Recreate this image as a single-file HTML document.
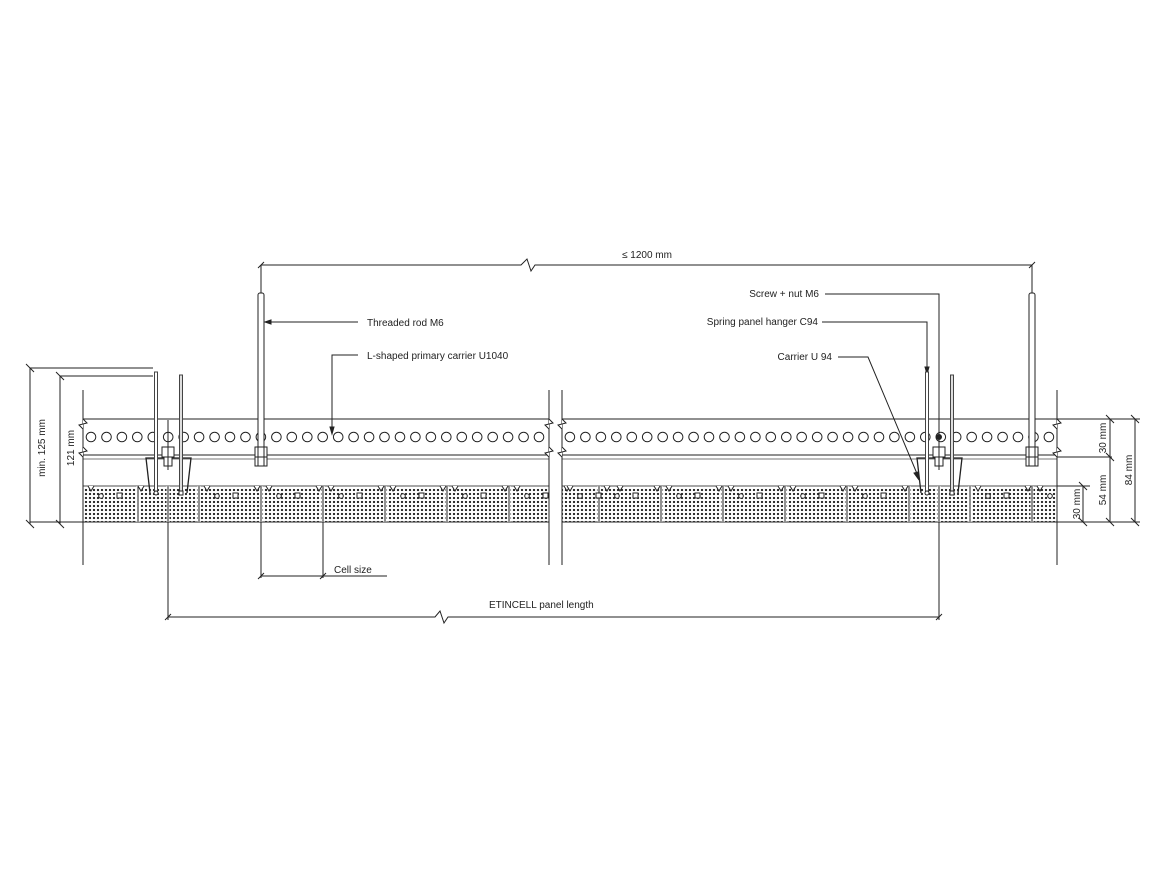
<!DOCTYPE html>
<html><head><meta charset="utf-8"><style>
html,body{margin:0;padding:0;background:#fff}
svg{display:block}
text{font-family:"Liberation Sans",sans-serif;font-size:10px;fill:#222}
</style></head><body>
<svg id="s" width="1170" height="878" viewBox="0 0 1170 878" xmlns="http://www.w3.org/2000/svg">
<defs>
<pattern id="dots" x="0" y="0" width="4" height="4" patternUnits="userSpaceOnUse">
<circle cx="2" cy="2" r="1.15" fill="#222"/>
</pattern>
</defs>
<g id="g" stroke="#222" stroke-width="1" fill="none">
<line x1="83" y1="419" x2="549" y2="419"/><line x1="562" y1="419" x2="1057" y2="419"/>
<line x1="83" y1="455" x2="549" y2="455"/><line x1="562" y1="455" x2="1057" y2="455"/>
<line x1="83" y1="459" x2="549" y2="459" stroke="#777"/><line x1="562" y1="459" x2="1057" y2="459" stroke="#777"/>
<rect x="83" y="488" width="466" height="34" fill="url(#dots)" stroke="none"/>
<rect x="562" y="488" width="495" height="34" fill="url(#dots)" stroke="none"/>
<line x1="83" y1="486" x2="549" y2="486" stroke="#888" stroke-width="1.5"/><line x1="562" y1="486" x2="1057" y2="486" stroke="#888" stroke-width="1.5"/>
<line x1="83" y1="522" x2="549" y2="522"/><line x1="562" y1="522" x2="1057" y2="522"/>
<line x1="83" y1="390" x2="83" y2="565"/><line x1="1057" y1="390" x2="1057" y2="565"/>
<line x1="549" y1="390" x2="549" y2="565"/><line x1="562" y1="390" x2="562" y2="565"/>
<line x1="168" y1="522" x2="168" y2="620"/><line x1="939" y1="522" x2="939" y2="620"/>
<line x1="261" y1="522" x2="261" y2="578"/><line x1="323" y1="522" x2="323" y2="578"/>
<line x1="261" y1="576" x2="387" y2="576"/>
<line x1="258" y1="579" x2="264" y2="573"/><line x1="320" y1="579" x2="326" y2="573"/>
<polyline points="168,617 435,617 440,611 444,623 448,617 939,617"/>
<line x1="165" y1="620" x2="171" y2="614"/><line x1="936" y1="620" x2="942" y2="614"/>
<polyline points="261,265 521,265 527,259 531,271 535,265 1032,265"/>
<line x1="258" y1="268" x2="264" y2="262"/><line x1="1029" y1="268" x2="1035" y2="262"/>
<line x1="261" y1="265" x2="261" y2="293"/><line x1="1032" y1="265" x2="1032" y2="293"/>
<line x1="30" y1="368" x2="153" y2="368"/><line x1="60" y1="376" x2="153" y2="376"/>
<line x1="30" y1="368" x2="30" y2="524"/><line x1="60" y1="376" x2="60" y2="524"/>
<line x1="26" y1="364" x2="34" y2="372"/><line x1="56" y1="372" x2="64" y2="380"/>
<line x1="26" y1="520" x2="34" y2="528"/><line x1="56" y1="520" x2="64" y2="528"/>
<line x1="30" y1="522" x2="83" y2="522"/>
<line x1="1057" y1="419" x2="1140" y2="419"/><line x1="1057" y1="457" x2="1112" y2="457"/>
<line x1="1057" y1="486" x2="1090" y2="486"/><line x1="1057" y1="522" x2="1140" y2="522"/>
<line x1="1110" y1="419" x2="1110" y2="522"/><line x1="1135" y1="419" x2="1135" y2="522"/>
<line x1="1083" y1="486" x2="1083" y2="522"/>
<line x1="1106" y1="415" x2="1114" y2="423"/><line x1="1106" y1="453" x2="1114" y2="461"/><line x1="1106" y1="518" x2="1114" y2="526"/>
<line x1="1131" y1="415" x2="1139" y2="423"/><line x1="1131" y1="518" x2="1139" y2="526"/>
<line x1="1079" y1="482" x2="1087" y2="490"/><line x1="1079" y1="518" x2="1087" y2="526"/>
<line x1="265" y1="322" x2="358" y2="322"/><polygon points="265,322 271,320 271,324" fill="#222"/>
<polyline points="358,355 332,355 332,432"/><polygon points="332,434 330,427 334,427" fill="#222"/>
<polyline points="825,294 939,294 939,437"/>
<polyline points="822,322 927,322 927,372"/><polygon points="927,374 925,367 929,367" fill="#222"/>
<polyline points="838,357 868,357 918,476"/><polygon points="919,480 914,473 918,472" fill="#222"/>
</g>
<text x="647" y="258" text-anchor="middle">≤ 1200 mm</text>
<text x="367" y="326">Threaded rod M6</text>
<text x="367" y="359">L-shaped primary carrier U1040</text>
<text x="819" y="297" text-anchor="end">Screw + nut M6</text>
<text x="818" y="325" text-anchor="end">Spring panel hanger C94</text>
<text x="832" y="360" text-anchor="end">Carrier U 94</text>
<text x="334" y="573">Cell size</text>
<text x="489" y="608">ETINCELL panel length</text>
<text transform="translate(45,448) rotate(-90)" text-anchor="middle">min. 125 mm</text>
<text transform="translate(74,448) rotate(-90)" text-anchor="middle">121 mm</text>
<text transform="translate(1106,438) rotate(-90)" text-anchor="middle">30 mm</text>
<text transform="translate(1106,490) rotate(-90)" text-anchor="middle">54 mm</text>
<text transform="translate(1132,470) rotate(-90)" text-anchor="middle">84 mm</text>
<text transform="translate(1080,504) rotate(-90)" text-anchor="middle">30 mm</text>
</svg>
<script>
var NS="http://www.w3.org/2000/svg",g=document.getElementById("g");
function el(t,a){var e=document.createElementNS(NS,t);for(var k in a)e.setAttribute(k,a[k]);g.appendChild(e);return e;}
for(var x=91;x<1052;x+=15.45){if(x>543&&x<568)continue;el("circle",{cx:x.toFixed(1),cy:437,r:4.8});}
var seps=[138,168,199,261,323,385,447,509,599,661,723,785,847,909,939,970,1032];
seps.forEach(function(x){el("rect",{x:x-1.5,y:486,width:3,height:36,fill:"#fff",stroke:"none"});el("line",{x1:x,y1:486,x2:x,y2:522});});
var starts=[83,199,261,323,385,447,509,562,599,661,723,785,847,970,1032];
starts.forEach(function(x){
 [8,58].forEach(function(d){var nx=x+d;if(nx<1055&&!(nx>545&&nx<565)){el("polyline",{points:(nx-3)+",486 "+nx+",491 "+(nx+3)+",486",fill:"#fff"});}});
 if(x+18<1055&&!(x+18>545&&x+18<565))el("circle",{cx:x+18,cy:496,r:2.3,fill:"#fff"});
 if(x+36<1055&&!(x+36>545&&x+36<565))el("rect",{x:x+34,y:493,width:5,height:5,fill:"#fff"});
});
[[83,-1],[549,1],[562,-1],[1057,1]].forEach(function(p){var x=p[0];[423,451].forEach(function(y){el("polyline",{points:x+","+(y-4)+" "+(x+4)+","+(y)+" "+(x-4)+","+(y+2)+" "+x+","+(y+6),fill:"#fff"});});});
[261,1032].forEach(function(x){el("rect",{x:x-3,y:293,width:6,height:173,rx:2,fill:"#fff"});el("rect",{x:x-6,y:447,width:12,height:10,fill:"#fff"});el("rect",{x:x-6,y:457,width:12,height:9,fill:"#fff"});el("line",{x1:x-3,y1:447,x2:x-3,y2:466});el("line",{x1:x+3,y1:447,x2:x+3,y2:466});});
[[146,191,156,181,168],[917,962,927,952,939]].forEach(function(h){
 el("polyline",{points:(h[0]+4)+",493 "+h[0]+",458 "+h[1]+",458 "+(h[1]-4)+",493",fill:"none","stroke-width":1.3});
 el("rect",{x:h[2]-1.5,y:372,width:3,height:121,fill:"#fff",stroke:"#444"});
 el("rect",{x:h[3]-1.5,y:375,width:3,height:118,fill:"#ddd",stroke:"#444"});
 el("circle",{cx:h[2],cy:493,r:2,fill:"#fff"});el("rect",{x:h[3]-2,y:491,width:4,height:4,fill:"#fff"});
 var x=h[4];el("line",{x1:x,y1:420,x2:x,y2:470});
 el("rect",{x:x-6,y:447,width:12,height:10,fill:"#fff"});el("rect",{x:x-4,y:457,width:8,height:9,fill:"#fff"});el("line",{x1:x,y1:447,x2:x,y2:466});
});
el("circle",{cx:939,cy:437,r:2.5,fill:"#222"});
</script>
</body></html>
